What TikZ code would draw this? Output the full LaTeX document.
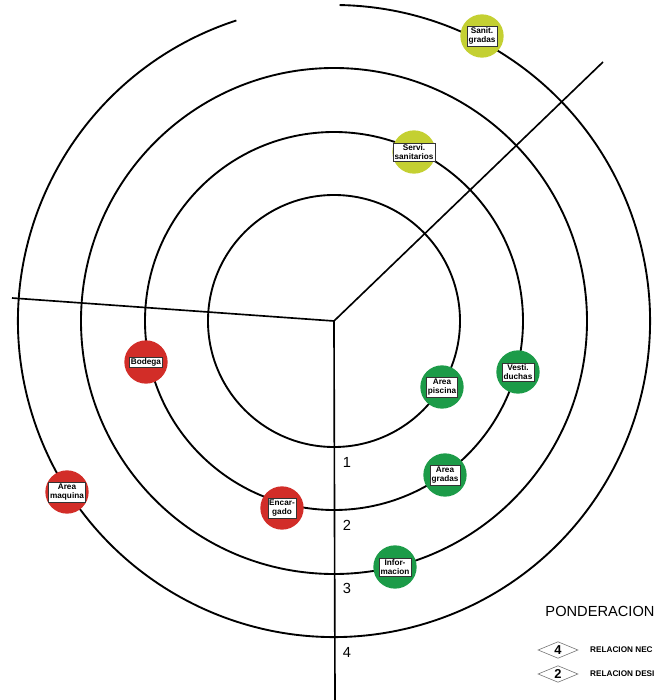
\documentclass[tikz,border=0pt]{standalone}
\usepackage{fontspec}
\setmainfont{Liberation Sans}
\usetikzlibrary{shapes.geometric}

\definecolor{spotred}{RGB}{210,45,40}
\definecolor{spotgreen}{RGB}{28,155,72}
\definecolor{spotlime}{RGB}{196,208,50}

\begin{document}
\begin{tikzpicture}[x=0.03cm,y=0.03cm,
  ring/.style={line width=1.6pt},
  axis/.style={line width=1.4pt},
  spot/.style={circle,inner sep=0pt,minimum size=1.3cm},
  tag/.style={draw=black!80,fill=white,line width=0.4pt,inner sep=1.2pt,align=center,font=\fontsize{7}{8}\selectfont\bfseries},
  level/.style={font=\fontsize{12.5}{12.5}\selectfont},
  weight/.style={diamond,draw=black!55,line width=0.5pt,minimum width=1.2cm,minimum height=0.5cm,inner sep=0pt,font=\fontsize{11}{11}\selectfont\bfseries}]
\useasboundingbox (-334,-379) rectangle (323,321);
\coordinate (o) at (0,0);
\coordinate (west) at (-322,23);
\coordinate (northeast) at (269,259);
\coordinate (south) at (1,-379);
% rings
\draw[ring] (o) circle[radius=126];
\draw[ring] (o) circle[radius=189];
\draw[ring] (o) circle[radius=253];
\draw[ring] (108:316) arc[start angle=108,end angle=449,radius=316];
% axes
\draw[axis] (o)--(west);
\draw[axis] (o)--(northeast);
\draw[axis] (o)--(south);
\node[level] (l1) at (13,-141) {1};
\node[level] (l2) at (13,-204) {2};
\node[level] (l3) at (13,-267) {3};
\node[level] (l4) at (13,-331) {4};
% spaces
\node[spot,fill=spotlime] (sanit) at (148,285) {};
\node[tag] at (sanit) {Sanit.\\gradas};
\node[spot,fill=spotlime] (servi) at (80,169) {};
\node[tag] at (servi) {Servi.\\sanitarios};
\node[spot,fill=spotred] (bodega) at (-188,-41) {};
\node[tag] at (bodega) {Bodega};
\node[spot,fill=spotred] (maquina) at (-267,-171) {};
\node[tag] at (maquina) {Area\\maquina};
\node[spot,fill=spotred] (encargado) at (-52,-187) {};
\node[tag] at (encargado) {Encar-\\gado};
\node[spot,fill=spotgreen] (informacion) at (61,-246) {};
\node[tag] at (informacion) {Infor-\\macion};
\node[spot,fill=spotgreen] (piscina) at (108,-66) {};
\node[tag] at (piscina) {Area\\piscina};
\node[spot,fill=spotgreen] (vesti) at (184,-51) {};
\node[tag] at (vesti) {Vesti.\\duchas};
\node[spot,fill=spotgreen] (gradas) at (111,-154) {};
\node[tag] at (gradas) {Area\\gradas};
% legend
\node[font=\fontsize{12.5}{12.5}\selectfont] (ponderacion) at (266,-290) {PONDERACION};
\node[weight] (w4) at (224,-329) {4};
\node[weight] (w2) at (224,-353) {2};
\node[anchor=west,inner sep=0pt,font=\fontsize{7}{7}\selectfont\bfseries] at (256,-329) {RELACION NEC};
\node[anchor=west,inner sep=0pt,font=\fontsize{7}{7}\selectfont\bfseries] at (256,-353) {RELACION DESI};
\end{tikzpicture}
\end{document}
